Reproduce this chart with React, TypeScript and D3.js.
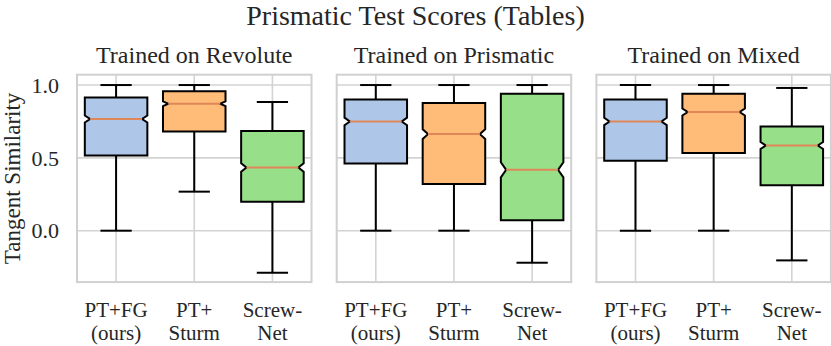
import React from "react";
import * as d3 from "d3";

const title = "Prismatic Test Scores (Tables)";
const panelTitles = ["Trained on Revolute", "Trained on Prismatic", "Trained on Mixed"];
const methodLine1 = ["PT+FG", "PT+", "Screw-"];
const methodLine2 = ["(ours)", "Sturm", "Net"];
const colors = ["#aec7e8", "#ffbb78", "#98df8a"];
const yTicks = [0.0, 0.5, 1.0];
const yLabel = "Tangent Similarity";

// [whisker low, q1, median, q3, whisker high]
const revoluteStats = [
  [0.0, 0.516, 0.767, 0.915, 1.0],
  [0.268, 0.681, 0.872, 0.957, 1.0],
  [-0.289, 0.198, 0.434, 0.684, 0.884],
];
const prismaticStats = [
  [0.0, 0.461, 0.75, 0.9, 1.0],
  [0.0, 0.321, 0.663, 0.877, 1.0],
  [-0.22, 0.071, 0.418, 0.941, 1.0],
];
const mixedStats = [
  [0.0, 0.48, 0.75, 0.9, 1.0],
  [0.0, 0.533, 0.815, 0.941, 1.0],
  [-0.204, 0.312, 0.585, 0.716, 0.98],
];
const allStats = [revoluteStats, prismaticStats, mixedStats];
const sampleCount = 700;

const W = 831;
const H = 346;
const FONT = "'Liberation Serif', 'Times New Roman', serif";

export default function App() {
  const panelLeft0 = 77;
  const panelW = 234.5;
  const gap = 25.2;
  const top = 74.7;
  const bottom = 282.1;

  const y = d3.scaleLinear().domain([-0.353, 1.071]).range([bottom, top]);

  const panels = allStats.map((stats, pi) => {
    const left = panelLeft0 + pi * (panelW + gap);
    const x = d3
      .scaleBand<number>()
      .domain([0, 1, 2])
      .range([left, left + panelW])
      .paddingInner(0)
      .paddingOuter(0);
    const step = x.step();
    const bw = step * 0.8;
    const capW = bw * 0.5;
    const notchIn = bw * 0.085;
    return (
      <g key={pi}>
        {yTicks.map((t) => (
          <line key={"gy" + t} x1={left} x2={left + panelW} y1={y(t)} y2={y(t)} stroke="#d3d3d3" strokeWidth={1.6} />
        ))}
        {[0, 1, 2].map((c) => {
          const cx = (x(c) as number) + step / 2;
          return <line key={"gx" + c} x1={cx} x2={cx} y1={top} y2={bottom} stroke="#d3d3d3" strokeWidth={1.6} />;
        })}
        {stats.map((s, c) => {
          const [lo, q1, med, q3, hi] = s;
          const cx = (x(c) as number) + step / 2;
          const bl = cx - bw / 2;
          const br = cx + bw / 2;
          const h = (1.57 * (q3 - q1)) / Math.sqrt(sampleCount);
          const cilo = med - h;
          const cihi = med + h;
          const path = d3.path();
          path.moveTo(bl, y(q1));
          path.lineTo(br, y(q1));
          path.lineTo(br, y(cilo));
          path.lineTo(br - notchIn, y(med));
          path.lineTo(br, y(cihi));
          path.lineTo(br, y(q3));
          path.lineTo(bl, y(q3));
          path.lineTo(bl, y(cihi));
          path.lineTo(bl + notchIn, y(med));
          path.lineTo(bl, y(cilo));
          path.closePath();
          return (
            <g key={"b" + c}>
              <line x1={cx} x2={cx} y1={y(q1)} y2={y(lo)} stroke="#000" strokeWidth={2} />
              <line x1={cx} x2={cx} y1={y(q3)} y2={y(hi)} stroke="#000" strokeWidth={2} />
              <line x1={cx - capW / 2} x2={cx + capW / 2} y1={y(lo)} y2={y(lo)} stroke="#000" strokeWidth={2} />
              <line x1={cx - capW / 2} x2={cx + capW / 2} y1={y(hi)} y2={y(hi)} stroke="#000" strokeWidth={2} />
              <path d={path.toString()} fill={colors[c]} stroke="#000" strokeWidth={2} strokeLinejoin="miter" />
              <line x1={bl + notchIn} x2={br - notchIn} y1={y(med)} y2={y(med)} stroke="#e0875a" strokeWidth={2} />
            </g>
          );
        })}
        <rect x={left} y={top} width={panelW} height={bottom - top} fill="none" stroke="#d0d0d0" strokeWidth={2} />
        <text x={left + panelW / 2} y={63} textAnchor="middle" fontSize={24} fontFamily={FONT} fill="#262626">
          {panelTitles[pi]}
        </text>
        {[0, 1, 2].map((c) => {
          const cx = (x(c) as number) + step / 2;
          return (
            <g key={"xl" + c}>
              <text x={cx} y={316.5} textAnchor="middle" fontSize={21} fontFamily={FONT} fill="#262626">
                {methodLine1[c]}
              </text>
              <text x={cx} y={340} textAnchor="middle" fontSize={21} fontFamily={FONT} fill="#262626">
                {methodLine2[c]}
              </text>
            </g>
          );
        })}
      </g>
    );
  });

  return (
    <svg width={W} height={H} style={{ position: "absolute", left: 0, top: 0, background: "#fff" }}>
      <rect x={0} y={0} width={W} height={H} fill="#fff" />
      <text x={415.5} y={24.5} textAnchor="middle" fontSize={28} fontFamily={FONT} fill="#262626">
        {title}
      </text>
      {yTicks.map((t) => (
        <text key={"yt" + t} x={59} y={y(t)} dy="0.35em" textAnchor="end" fontSize={22} fontFamily={FONT} fill="#262626">
          {d3.format(".1f")(t)}
        </text>
      ))}
      <text
        transform={`translate(20,${(top + bottom) / 2}) rotate(-90)`}
        textAnchor="middle"
        fontSize={23}
        fontFamily={FONT}
        fill="#262626"
      >
        {yLabel}
      </text>
      {panels}
    </svg>
  );
}
